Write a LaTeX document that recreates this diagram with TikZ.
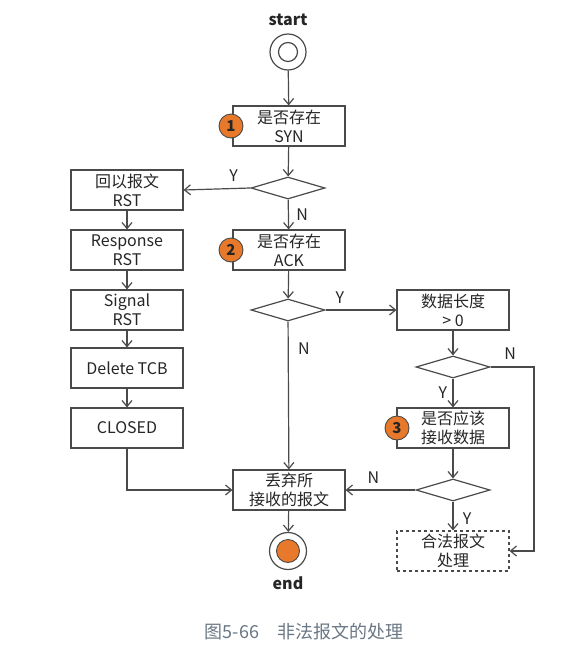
\documentclass[tikz,border=0pt]{standalone}
\usepackage{fontspec}
\setmainfont{Noto Sans CJK SC}
\usepackage{xcolor}
\usetikzlibrary{arrows.meta,shapes.geometric}
\definecolor{flowline}{HTML}{4A4A4A}
\definecolor{flowtext}{HTML}{262626}
\definecolor{markorange}{HTML}{E8792B}
\definecolor{captiongray}{HTML}{6A7784}

\begin{document}
\begin{tikzpicture}[x=1pt,y=-1pt,
  every node/.style={text=flowtext,font=\fontsize{16}{19}\selectfont},
  proc/.style={draw=flowline,line width=1.2pt,minimum width=112pt,minimum height=40pt,
    inner sep=0pt,align=center,fill=white},
  cond/.style={draw=flowline,line width=1.2pt,diamond,minimum width=74pt,minimum height=22pt,
    inner sep=0pt,fill=white},
  badge/.style={circle,draw=flowline,line width=0.9pt,fill=markorange,minimum size=24pt,
    inner sep=0pt,font=\fontsize{15}{15}\selectfont\bfseries},
  flow/.style={draw=flowline,line width=1.2pt,-{Straight Barb[length=6pt,width=10pt]}},
  yn/.style={font=\fontsize{16}{16}\selectfont}]
  \useasboundingbox (0,0) rectangle (578,646);

  \node[font=\fontsize{16}{16}\selectfont\bfseries] (starttxt) at (288,20) {start};
  \node[circle,draw=flowline,line width=1.2pt,minimum size=36pt,inner sep=0pt] (st) at (288,52) {};
  \node[circle,draw=flowline,line width=1.2pt,minimum size=19pt,inner sep=0pt] (stin) at (288,52) {};

  \node[proc] (syn) at (289,126) {是否存在\\SYN};
  \node[badge] (m1) at (231,126) {1};
  \node[cond] (d1) at (288,188) {};
  \node[proc] (rst) at (127,190) {回以报文\\RST};
  \node[proc] (resp) at (127,250) {Response\\RST};
  \node[proc] (sig) at (127,310) {Signal\\RST};
  \node[proc] (del) at (127,368) {Delete TCB};
  \node[proc] (closed) at (127,428) {CLOSED};

  \node[proc] (ack) at (289,250) {是否存在\\ACK};
  \node[badge] (m2) at (231,250) {2};
  \node[cond] (d2) at (288,310) {};
  \node[proc] (len) at (453,310) {数据长度\\> 0};
  \node[cond] (d3) at (453,367) {};
  \node[proc] (acc) at (453,428) {是否应该\\接收数据};
  \node[badge] (m3) at (397,428) {3};
  \node[cond] (d4) at (453,490) {};
  \node[proc,dashed] (ok) at (453,551) {合法报文\\处理};
  \node[proc] (drop) at (289,490) {丢弃所\\接收的报文};

  \node[circle,draw=flowline,line width=1.2pt,minimum size=37pt,inner sep=0pt] (fin) at (288,551) {};
  \node[circle,draw=flowline,line width=0.9pt,fill=markorange,minimum size=23pt,inner sep=0pt] (finin) at (288,551) {};
  \node[font=\fontsize{16}{16}\selectfont\bfseries] (endtxt) at (288,583) {end};
  \coordinate (rt) at (534,367);

  \draw[flow] (st) -- (syn);
  \draw[flow] (syn) -- (d1);
  \draw[flow] (d1.west) -- node[yn,above,pos=0.25,yshift=3pt] {Y} (rst.east);
  \draw[flow] (d1) -- node[yn,right,xshift=4pt] {N} (ack);
  \draw[flow] (rst) -- (resp);
  \draw[flow] (resp) -- (sig);
  \draw[flow] (sig) -- (del);
  \draw[flow] (del) -- (closed);
  \draw[flow] (closed.south) |- (drop.west);
  \draw[flow] (ack) -- (d2);
  \draw[flow] (d2.east) -- node[yn,above,pos=0.2,yshift=3pt] {Y} (len.west);
  \draw[flow] (d2) -- node[yn,right,pos=0.18,xshift=6pt] {N} (drop);
  \draw[flow] (len) -- (d3);
  \draw[flow] (d3) -- node[yn,left,xshift=-2pt] {Y} (acc);
  \draw[flow] (d3.east) -- node[yn,above,pos=0.45,yshift=4pt] {N} (rt) |- (ok.east);
  \draw[flow] (acc) -- (d4);
  \draw[flow] (d4.west) -- node[yn,above,pos=0.6,yshift=3pt] {N} (drop.east);
  \draw[flow] (d4) -- node[yn,right,pos=0.6,xshift=6pt] {Y} (ok);
  \draw[flow] (drop) -- (fin);

  \node[text=captiongray,font=\fontsize{18}{18}\selectfont] (cap) at (304,632) {图5-66\quad 非法报文的处理};
\end{tikzpicture}
\end{document}
